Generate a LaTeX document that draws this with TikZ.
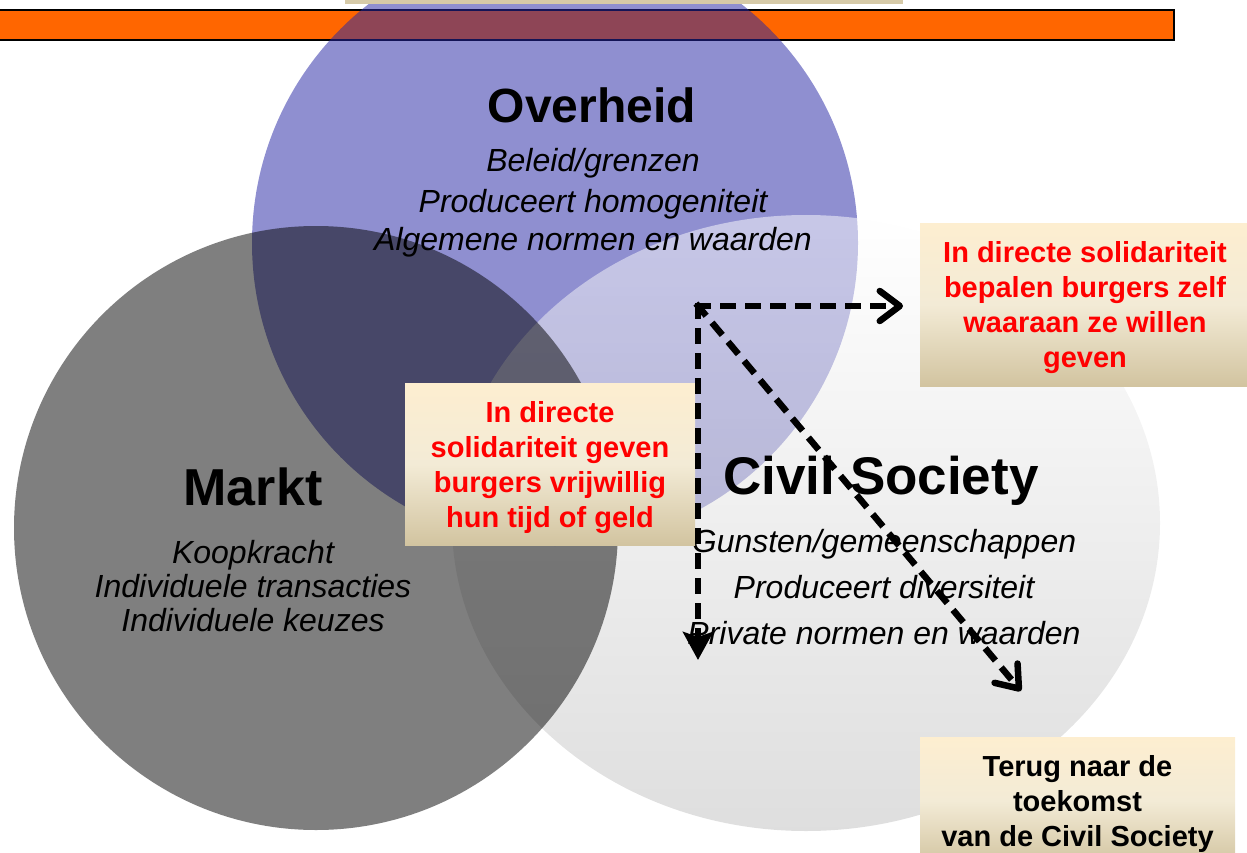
\documentclass[tikz,border=0pt]{standalone}
\usepackage{fontspec}
\setmainfont{Liberation Sans}
\usetikzlibrary{arrows.meta}
\definecolor{orangebar}{RGB}{255,102,0}
\definecolor{beigebar}{RGB}{214,202,168}
\definecolor{govblue}{RGB}{40,40,165}
\definecolor{civbot}{RGB}{190,190,190}
\definecolor{boxtop}{RGB}{253,238,208}
\definecolor{boxmid}{RGB}{243,235,214}
\definecolor{boxbot}{RGB}{210,196,160}
\definecolor{redtext}{RGB}{255,0,0}
\begin{document}
\begin{tikzpicture}[x=1pt,y=-1pt,
  infobox/.style={top color=boxtop, bottom color=boxbot, middle color=boxmid, inner sep=0pt},
  boxtext/.style={inner sep=0pt, align=center, font=\bfseries\fontsize{29}{35}\selectfont},
  titletext/.style={anchor=base, font=\bfseries\fontsize{#1}{#1}\selectfont},
  subtext/.style={anchor=base, font=\itshape\fontsize{32}{38}\selectfont},
  dasharrow/.style={line width=6.5pt, line cap=rect, dash pattern=on 9.5pt off 15.5pt},
  openhead/.style={-{Straight Barb[length=20pt,width=30pt,round]}},
  filledhead/.style={-{Stealth[length=28pt,width=30pt,inset=5pt]}}
]
\useasboundingbox (0,0) rectangle (1247,853);
% top bars
\draw[line width=2pt, fill=orangebar] (-10,10) rectangle (1174,40);
% circles
\fill[govblue, fill opacity=0.52] (555,243) circle[radius=303pt];
\shade[top color=white, bottom color=civbot, opacity=0.5] (806,523) ellipse[x radius=354pt, y radius=308pt];
\fill[black, fill opacity=0.5] (316,528) circle[radius=302pt];
\fill[beigebar] (345,-5) rectangle (903,4);
% titles and sub texts
\node[titletext=48] (overheid) at (592,123) {Overheid};
\node[subtext] (ov1) at (593,172) {Beleid/grenzen};
\node[subtext] (ov2) at (593,212) {Produceert homogeniteit};
\node[subtext] (ov3) at (593,251) {Algemene normen en waarden};
\node[titletext=52] (markt) at (253,505) {Markt};
\node[subtext] (mk1) at (253,563) {Koopkracht};
\node[subtext] (mk2) at (253,597) {Individuele transacties};
\node[subtext] (mk3) at (253,631) {Individuele keuzes};
\node[titletext=53] (civil) at (881,494) {Civil Society};
\node[subtext] (cs1) at (884,552) {Gunsten/gemeenschappen};
\node[subtext] (cs2) at (884,598) {Produceert diversiteit};
\node[subtext] (cs3) at (884,644) {Private normen en waarden};
% boxes
\node[infobox, minimum width=290pt, minimum height=162pt] (midbox) at (550,464) {};
\node[boxtext, text=redtext] (midtext) at ([yshift=-4pt]midbox.center) {In directe\\solidariteit geven\\burgers vrijwillig\\hun tijd of geld};
\node[infobox, minimum width=330pt, minimum height=163pt] (rightbox) at (1085,304.5) {};
\node[boxtext, text=redtext] (righttext) at ([yshift=-3pt]rightbox.center) {In directe solidariteit\\bepalen burgers zelf\\waaraan ze willen\\geven};
\node[infobox, minimum width=315pt, minimum height=128pt] (botbox) at (1077.5,801) {};
\node[boxtext, text=black] (bottext) at ([yshift=-3pt]botbox.center) {Terug naar de\\toekomst\\van de Civil Society};
% arrows
\coordinate (corner) at (698,306);
\coordinate (rightend) at (903,306);
\coordinate (downend) at (698,660);
\coordinate (diagend) at (1021,691);
\draw[dasharrow, openhead] (corner) -- (rightend);
\draw[dasharrow, filledhead] (corner) -- (downend);
\draw[dasharrow, openhead] (corner) -- (diagend);
\end{tikzpicture}
\end{document}
